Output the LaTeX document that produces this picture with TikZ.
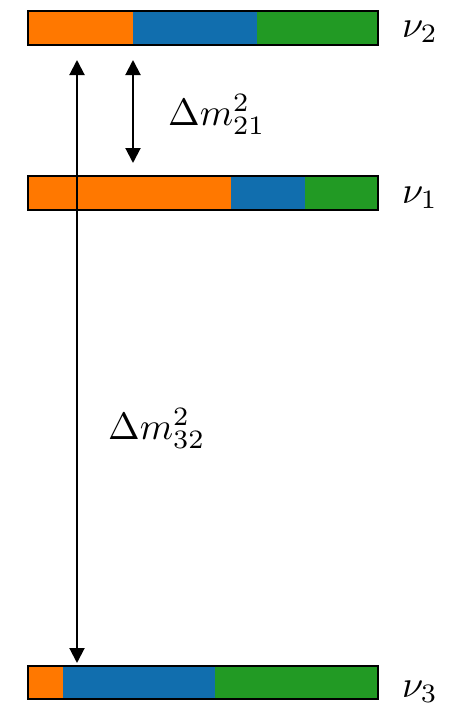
\documentclass[tikz,border=0pt]{standalone}
\usetikzlibrary{arrows.meta}
\definecolor{orng}{HTML}{FF7800}
\definecolor{blu}{HTML}{116EAE}
\definecolor{grn}{HTML}{229A24}
\newcommand{\lblmath}[1]{\scalebox{3.8}{$#1$}}
\begin{document}
\begin{tikzpicture}[x=1pt,y=-1pt,
  barbox/.style={draw=black,line width=2pt,anchor=north west,inner sep=0pt,minimum width=350pt,minimum height=34pt},
  lbl/.style={anchor=base west,inner sep=0pt},
  arr/.style={line width=2pt,{Triangle[width=15pt,length=15pt]}-{Triangle[width=15pt,length=15pt]}}]
\useasboundingbox (0,0) rectangle (460,704);
% nu2 bar
\fill[orng] (27,10) rectangle (133,44);
\fill[blu] (133,10) rectangle (257,44);
\fill[grn] (257,10) rectangle (377,44);
\node[barbox] (b2) at (27,10) {};
% nu1 bar
\fill[orng] (27,175) rectangle (231,209);
\fill[blu] (231,175) rectangle (305,209);
\fill[grn] (305,175) rectangle (377,209);
\node[barbox] (b1) at (27,175) {};
% nu3 bar
\fill[orng] (27,665) rectangle (63,698);
\fill[blu] (63,665) rectangle (215,698);
\fill[grn] (215,665) rectangle (377,698);
\node[barbox,minimum height=33pt] (b3) at (27,665) {};
% labels
\node[lbl] (l2) at (402,37) {\lblmath{\nu_2}};
\node[lbl] (l1) at (402,203) {\lblmath{\nu_1}};
\node[lbl] (l3) at (402,697) {\lblmath{\nu_3}};
\node[lbl] (d21) at (168,125) {\lblmath{\Delta m^2_{21}}};
\node[lbl] (d32) at (108,439) {\lblmath{\Delta m^2_{32}}};
% arrows
\coordinate (la) at (77,60);
\coordinate (lb) at (77,663);
\coordinate (sa) at (133,60);
\coordinate (sb) at (133,163);
\draw[arr] (la) -- (lb);
\draw[arr] (sa) -- (sb);
\end{tikzpicture}
\end{document}
